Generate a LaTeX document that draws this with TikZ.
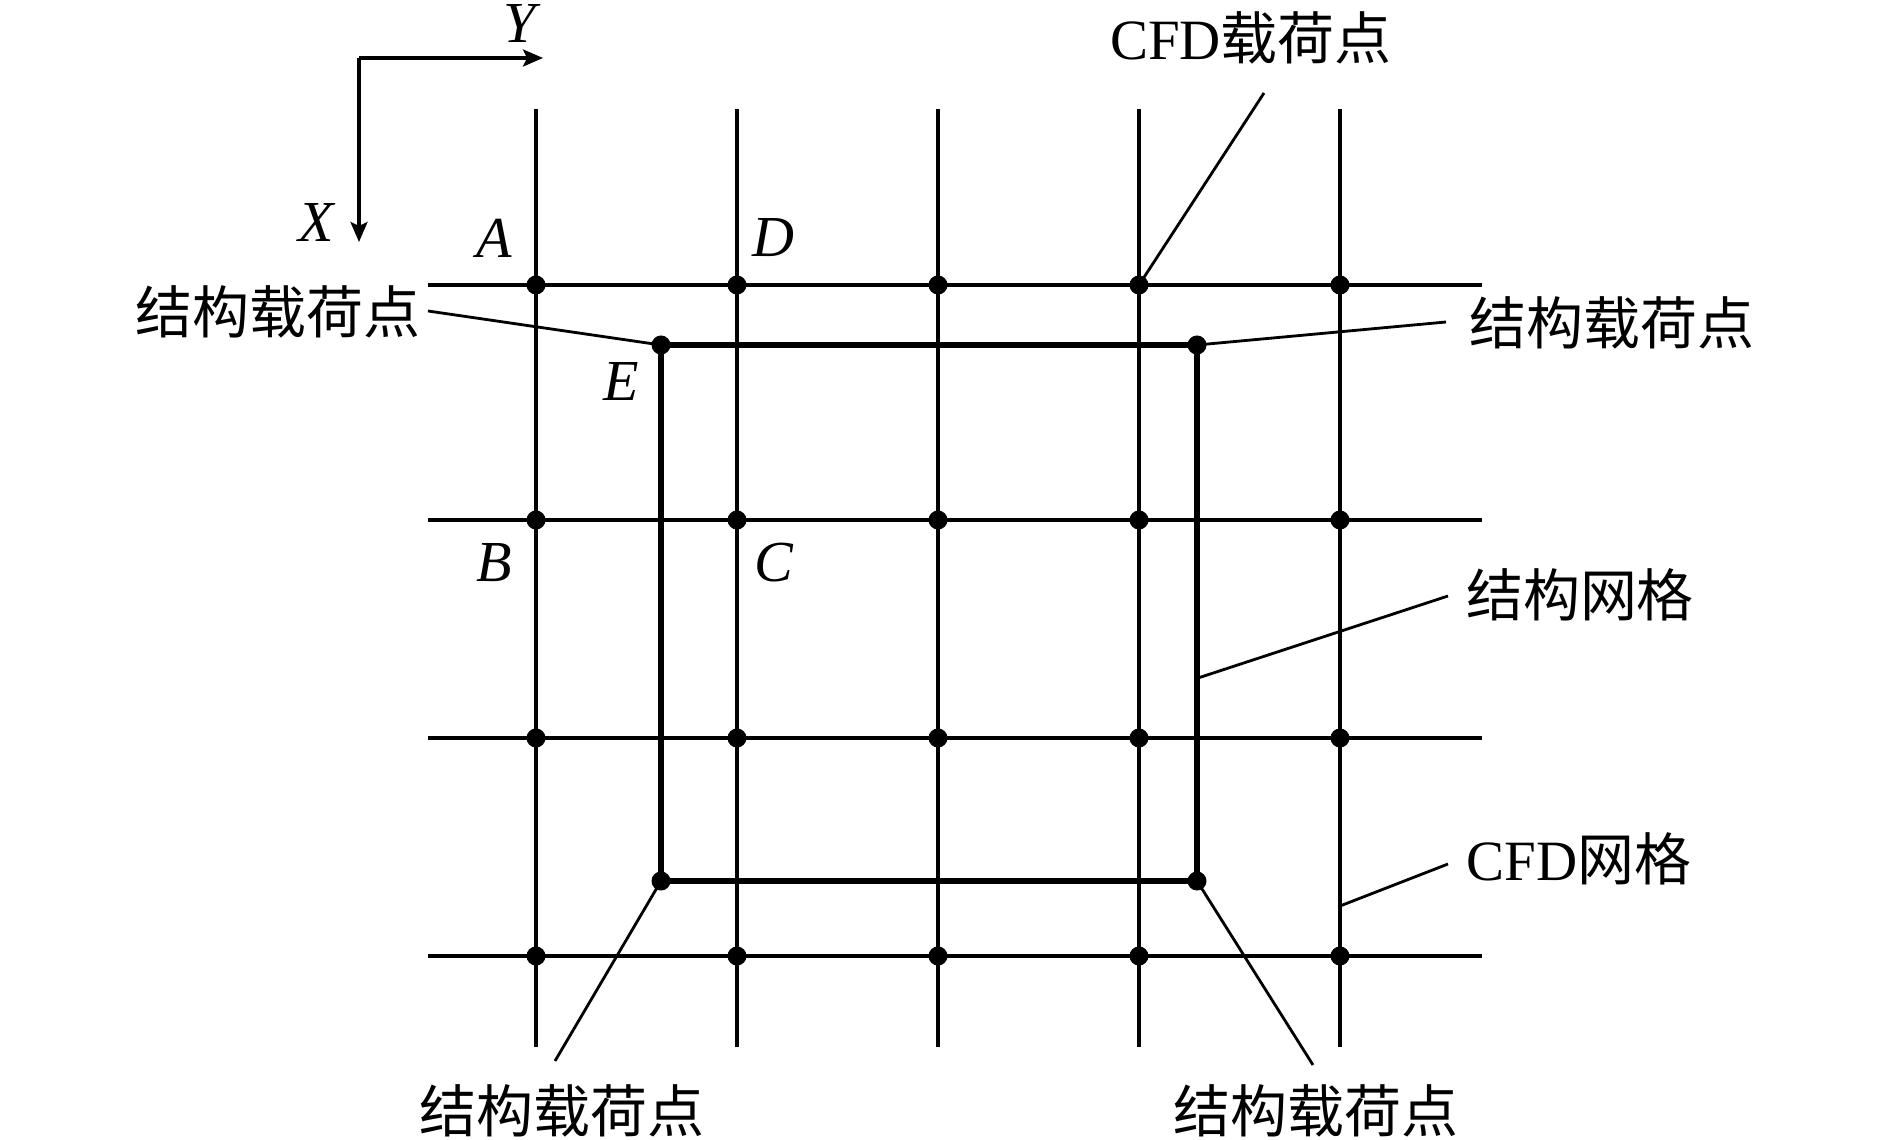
\documentclass[tikz,border=0pt]{standalone}
\usepackage{fontspec}
\setmainfont{Liberation Serif}
\newfontfamily\cjk{Noto Sans CJK SC}
\usetikzlibrary{arrows.meta}
\begin{document}
\begin{tikzpicture}[x=0.01cm,y=-0.01cm,
  gridline/.style={line width=0.9pt},
  structline/.style={line width=1.8pt},
  leader/.style={line width=0.8pt},
  axis/.style={line width=0.9pt,-{Stealth[length=0.2cm,width=0.17cm,inset=0.04cm]}},
  dot/.style={circle,fill=black,draw=none,inner sep=0pt,minimum size=0.19cm},
  lab/.style={font=\fontsize{16.2pt}{19pt}\selectfont\cjk,inner sep=0pt},
  letter/.style={font=\fontsize{16.5pt}{19pt}\selectfont\itshape,inner sep=0pt}]
\useasboundingbox (0,0) rectangle (1890,1140);
% grid lines
\foreach \i/\x in {1/536,2/737,3/938,4/1139,5/1340}{
  \coordinate (vt\i) at (\x,109);
  \coordinate (vb\i) at (\x,1047);
  \draw[gridline] (vt\i) -- (vb\i);
}
\foreach \j/\y in {1/285,2/520,3/738,4/956}{
  \coordinate (hl\j) at (428,\y);
  \coordinate (hr\j) at (1482,\y);
  \draw[gridline] (hl\j) -- (hr\j);
}
% structural mesh
\coordinate (s1) at (661,345);
\coordinate (s2) at (1197,345);
\coordinate (s3) at (1197,881);
\coordinate (s4) at (661,881);
\draw[structline] (s1) -- (s2) -- (s3) -- (s4) -- cycle;
% axes
\coordinate (o) at (359,58);
\coordinate (yend) at (543,58);
\coordinate (xend) at (359,242);
\draw[axis] (o) -- (yend);
\draw[axis] (o) -- (xend);
\node[letter] (ylab) at (520,24) {Y};
\node[letter] (xlab) at (316,223) {X};
% labels
\node[lab] (cfdload) at (1251,38) {{\rmfamily CFD}载荷点};
\node[lab] (lt) at (278,312) {结构载荷点};
\node[lab] (rt) at (1612,323) {结构载荷点};
\node[lab] (lb) at (562,1111) {结构载荷点};
\node[lab] (rb) at (1316,1111) {结构载荷点};
\node[lab] (smesh) at (1580,595) {结构网格};
\node[lab] (cmesh) at (1579,859) {{\rmfamily CFD}网格};
% leader ends
\coordinate (c1) at (1264,93);
\coordinate (c2) at (428,311);
\coordinate (c3) at (1446,322);
\coordinate (c4) at (1448,596);
\coordinate (c5) at (1448,864);
\coordinate (c6) at (555,1061);
\coordinate (c7) at (1313,1065);
\coordinate (m1) at (1198,678);
\coordinate (m2) at (1340,906);
\draw[leader] (vt4 |- hl1) -- (c1);
\draw[leader] (c2) -- (s1);
\draw[leader] (s2) -- (c3);
\draw[leader] (m1) -- (c4);
\draw[leader] (m2) -- (c5);
\draw[leader] (s4) -- (c6);
\draw[leader] (s3) -- (c7);
% dots
\foreach \i/\x in {1/536,2/737,3/938,4/1139,5/1340}{
  \foreach \j/\y in {1/285,2/520,3/738,4/956}{
    \node[dot] (g\i\j) at (\x,\y) {};
  }
}
\node[dot] (d1) at (s1) {};
\node[dot] (d2) at (s2) {};
\node[dot] (d3) at (s3) {};
\node[dot] (d4) at (s4) {};
% point letters
\node[letter] (la) at (494,238) {A};
\node[letter] (ld) at (773,238) {D};
\node[letter] (le) at (621,382) {E};
\node[letter] (lbb) at (494,563) {B};
\node[letter] (lc) at (774,563) {C};
\end{tikzpicture}
\end{document}
